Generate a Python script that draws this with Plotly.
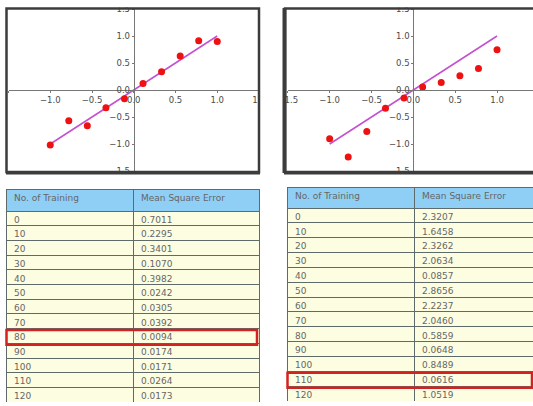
import plotly.graph_objects as go

# ---- data ----
x_pts = [-1.0, -0.778, -0.556, -0.333, -0.111, 0.111, 0.333, 0.556, 0.778, 1.0]
y_left = [-1.02, -0.57, -0.66, -0.33, -0.16, 0.12, 0.34, 0.63, 0.91, 0.90]
y_right = [-0.905, -1.24, -0.77, -0.34, -0.15, 0.055, 0.14, 0.265, 0.40, 0.745]
fit_x = [-1.0, 1.0]
fit_y = [-1.0, 1.0]

training = ["0", "10", "20", "30", "40", "50", "60", "70", "80", "90", "100", "110", "120"]
mse_left = ["0.7011", "0.2295", "0.3401", "0.1070", "0.3982", "0.0242", "0.0305",
            "0.0392", "0.0094", "0.0174", "0.0171", "0.0264", "0.0173"]
mse_right = ["2.3207", "1.6458", "2.3262", "2.0634", "0.0857", "2.8656", "2.2237",
             "2.0460", "0.5859", "0.0648", "0.8489", "0.0616", "1.0519"]
headers = ["No. of Training", "Mean Square Error"]
best_left = 8    # row index with smallest error (80)
best_right = 11  # row index highlighted (110)

W, H = 533, 406


def px(v):
    return v / W


def py(v):
    return 1 - v / H


fig = go.Figure()

# ---- scatter panels ----
TICK_FONT = dict(family="DejaVu Sans", size=8.5, color="#4a4a4a")
panels = [
    # (xaxis, yaxis, y values, x-domain px, x-range, origin x px)
    ("x", "y", y_left, (8.5, 259.0), [-1.5, 1.5], 133.7),
    ("x2", "y2", y_right, (287.8, 533.0), [-1.5, -1.5 + (533.0 - 287.8) / 83.7], 413.3),
]
for xa, ya, yv, (dx0, dx1), xr, ox in panels:
    fig.add_trace(go.Scatter(x=fit_x, y=fit_y, mode="lines", xaxis=xa, yaxis=ya,
                             line=dict(color="#c44fd0", width=1.5), showlegend=False,
                             hoverinfo="skip"))
    fig.add_trace(go.Scatter(x=x_pts, y=yv, mode="markers", xaxis=xa, yaxis=ya,
                             marker=dict(color="#ee1111", size=7), showlegend=False))
    xkey = "xaxis" if xa == "x" else "xaxis2"
    ykey = "yaxis" if ya == "y" else "yaxis2"
    tv = [t for t in [-1.5, -1.0, -0.5, 0.0, 0.5, 1.0, 1.5] if xr[0] - 1e-9 <= t <= xr[1] + 1e-9]
    fig.update_layout(**{
        xkey: dict(domain=[px(dx0), px(dx1)], range=xr, anchor="free", position=py(90),
                   showgrid=False, zeroline=False, showline=True, linecolor="#777",
                   linewidth=1, tickvals=tv,
                   ticktext=[f"{t:.1f}".replace("-", "\u2212") for t in tv],
                   ticks="outside", ticklen=2, tickcolor="#777", tickfont=TICK_FONT,
                   automargin=False, fixedrange=True),
        ykey: dict(domain=[py(171), py(9)], range=[-1.5, 1.5], anchor="free",
                   position=px(ox), showgrid=False, zeroline=False, showline=True,
                   linecolor="#777", linewidth=1,
                   tickvals=[-1.5, -1.0, -0.5, 0.0, 0.5, 1.0, 1.5],
                   ticktext=["\u22121.5", "\u22121.0", "\u22120.5", "0.0", "0.5", "1.0", "1.5"],
                   ticks="outside", ticklen=2, tickcolor="#777", tickfont=TICK_FONT,
                   automargin=False, fixedrange=True),
    })

# ---- error tables ----
# Each table is drawn twice: a grid layer (fills and borders) and a text layer
# lifted a few pixels so the labels sit centred in their rows.
TABLE_FONT = dict(family="DejaVu Sans", size=9, color="#666")
CLEAR = "rgba(0,0,0,0)"
TEXT_LIFT = 3.0
tables = [
    # (values, x px, header top px, header height, row height, column widths)
    (mse_left, (6.0, 259.5), 189.0, 22.0, 14.7, [127, 126]),
    (mse_right, (287.0, 533.0), 187.0, 21.0, 14.85, [127, 119]),
]
for vals, (tx0, tx1), top, hh, rh, cw in tables:
    bottom = top + hh + rh * len(training)
    blank_rows = [[""] * len(training), [""] * len(training)]
    fig.add_trace(go.Table(
        domain=dict(x=[px(tx0), px(tx1)], y=[py(bottom), py(top)]),
        columnwidth=cw,
        header=dict(values=["", ""], fill_color="#8fcff5", align="left",
                    line=dict(color="#5f6b6b", width=1), height=hh, font=TABLE_FONT),
        cells=dict(values=blank_rows, fill_color="#fdfde2", align="left",
                   line=dict(color="#5f6b6b", width=1), height=rh, font=TABLE_FONT),
    ))
    fig.add_trace(go.Table(
        domain=dict(x=[px(tx0), px(tx1)], y=[py(bottom - TEXT_LIFT), py(top - TEXT_LIFT)]),
        columnwidth=cw,
        header=dict(values=headers, fill_color=CLEAR, align="left",
                    line=dict(color=CLEAR, width=0), height=hh, font=TABLE_FONT),
        cells=dict(values=[training, vals], fill_color=CLEAR, align="left",
                   line=dict(color=CLEAR, width=0), height=rh, font=TABLE_FONT),
    ))

# highlight boxes around the selected rows
shapes = []
for (tx0, tx1), top, hh, rh, idx in [((6.5, 257.0), 189.0, 22.0, 14.7, best_left),
                                     ((287.5, 532.0), 187.0, 21.0, 14.85, best_right)]:
    r0 = top + hh + rh * idx + 1.5
    r1 = r0 + rh
    shapes.append(dict(type="rect", xref="paper", yref="paper",
                       x0=px(tx0), x1=px(tx1), y0=py(r1), y1=py(r0),
                       line=dict(color="#d42222", width=2.5), layer="above"))

# white gutters so tick labels stop at the frame edges
shapes += [
    dict(type="rect", xref="paper", yref="paper", x0=0, x1=1, y0=py(7.5), y1=1,
         fillcolor="white", line=dict(width=0), layer="above"),
    dict(type="rect", xref="paper", yref="paper", x0=px(259), x1=px(283), y0=py(176), y1=1,
         fillcolor="white", line=dict(width=0), layer="above"),
    dict(type="rect", xref="paper", yref="paper", x0=0, x1=px(5.5), y0=py(176), y1=1,
         fillcolor="white", line=dict(width=0), layer="above"),
]

# dark frames around the two plots
FRAME = "#3c3c3c"
shapes += [
    dict(type="rect", xref="paper", yref="paper", x0=px(6.5), x1=px(259), y0=py(172), y1=py(8.5),
         line=dict(color=FRAME, width=2.5), layer="above"),
    dict(type="line", xref="paper", yref="paper", x0=px(6), x1=px(260), y0=py(173), y1=py(173),
         line=dict(color=FRAME, width=3), layer="above"),
    dict(type="rect", xref="paper", yref="paper", x0=px(285), x1=px(545), y0=py(172), y1=py(8.5),
         line=dict(color=FRAME, width=2.5), layer="above"),
    dict(type="line", xref="paper", yref="paper", x0=px(284.5), x1=px(284.5), y0=py(173), y1=py(8),
         line=dict(color=FRAME, width=4), layer="above"),
    dict(type="line", xref="paper", yref="paper", x0=px(284), x1=px(545), y0=py(173), y1=py(173),
         line=dict(color=FRAME, width=3), layer="above"),
]

fig.update_layout(width=W, height=H,
                  margin=dict(l=0, r=0, t=0, b=0, pad=0, autoexpand=False),
                  paper_bgcolor="white", plot_bgcolor="white", shapes=shapes,
                  showlegend=False)

fig.write_html("out.html")
